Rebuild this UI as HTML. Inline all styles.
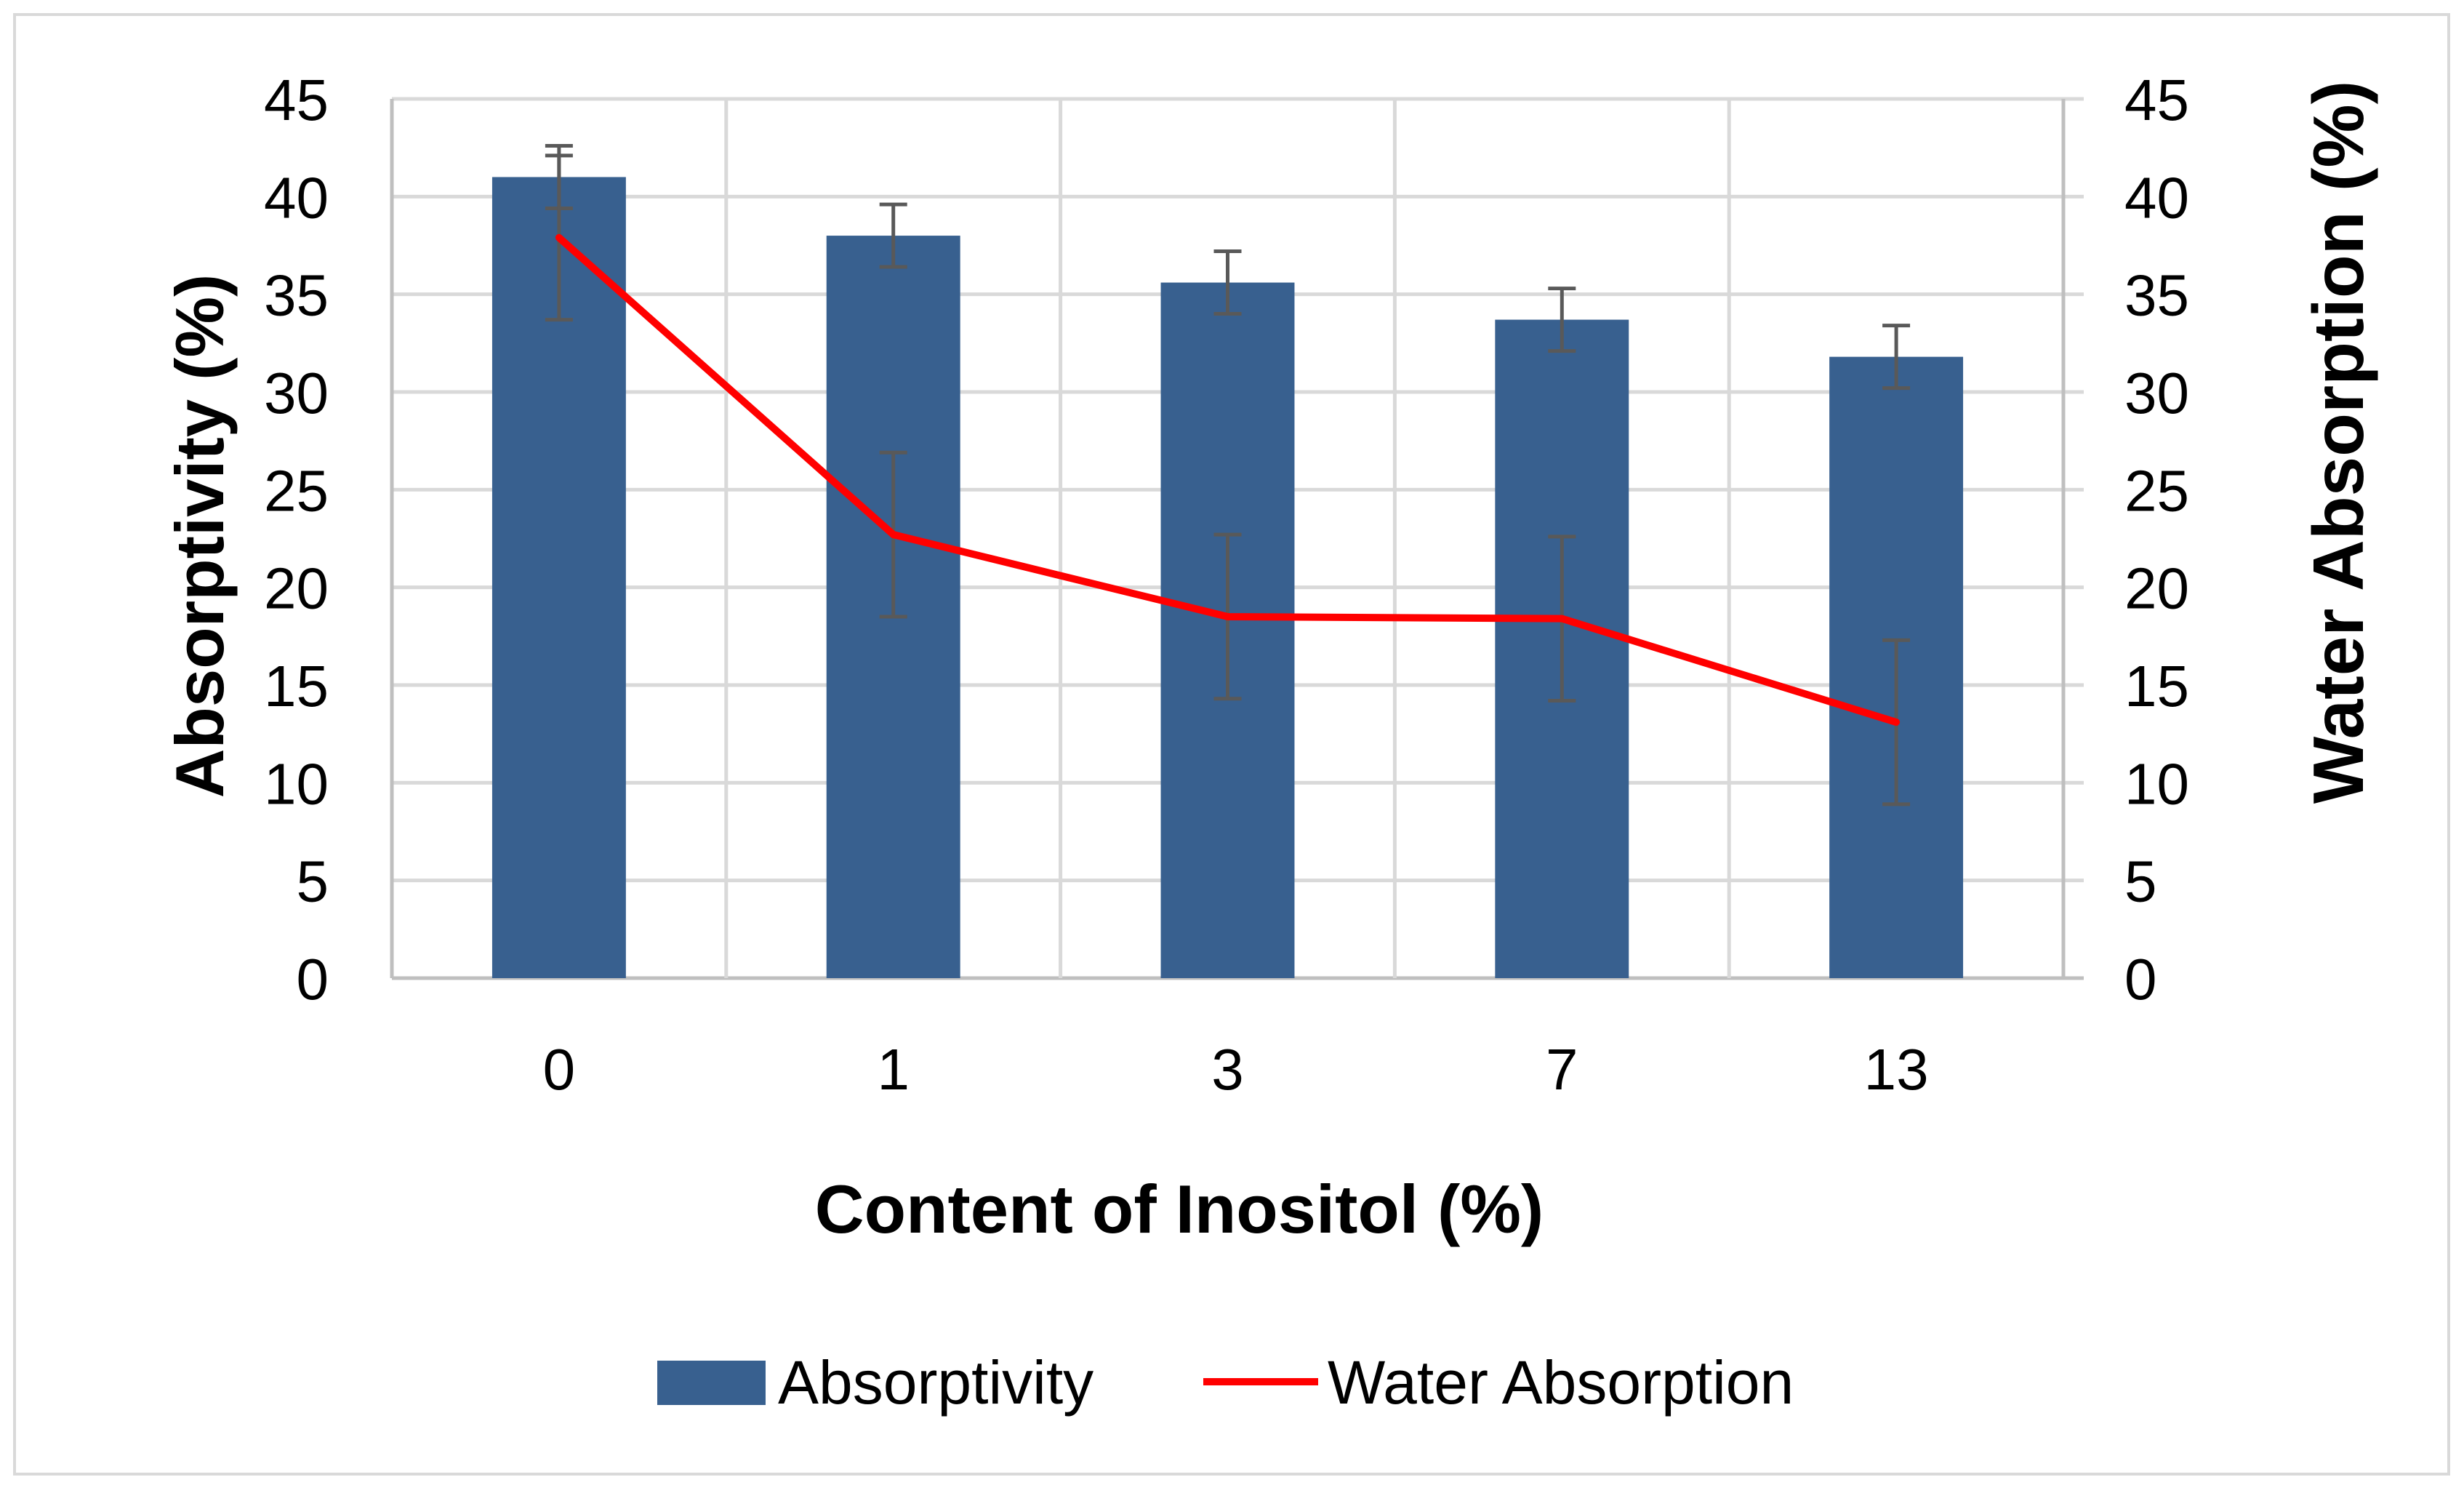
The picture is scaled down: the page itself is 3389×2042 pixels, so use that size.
<!DOCTYPE html>
<html><head><meta charset="utf-8"><style>
html,body{margin:0;padding:0;background:#fff;}
svg{display:block;font-family:"Liberation Sans",sans-serif;}
</style></head><body>
<svg id="chart" width="3389" height="2042" viewBox="0 0 3389 2042">
<rect x="20" y="20" width="3348" height="2007" fill="#fff" stroke="#d9d9d9" stroke-width="4"/>
<g id="grid"></g><g id="bars"></g><g id="lineg"></g><g id="axes"></g>
<text x="0" y="0" transform="translate(307,737) rotate(-90)" text-anchor="middle" font-size="94" font-weight="bold">Absorptivity (%)</text>
<text x="0" y="0" transform="translate(3250,608) rotate(-90)" text-anchor="middle" font-size="98" font-weight="bold">Water Absorption (%)</text>
<text x="1622" y="1695" text-anchor="middle" font-size="94" font-weight="bold">Content of Inositol (%)</text>
<g>
<rect x="904" y="1871" width="149" height="61" fill="#38608f"/>
<text x="1070" y="1930" font-size="84">Absorptivity</text>
<line x1="1655" y1="1900" x2="1813" y2="1900" stroke="#ff0000" stroke-width="10"/>
<text x="1826" y="1930" font-size="84">Water Absorption</text>
</g>
</svg>
<script>
const categories=["0","1","3","7","13"];
const absorptivity=[41,38,35.6,33.7,31.8];
const absorptivityErr=[1.6,1.6,1.6,1.6,1.6];
const waterAbsorption=[37.9,22.7,18.5,18.4,13.1];
const waterErr=[4.2,4.2,4.2,4.2,4.2];
const yTicks=[0,5,10,15,20,25,30,35,40,45];
const NS="http://www.w3.org/2000/svg";
const L=539,R=2838,T=136,B=1345,YMAX=45;
const y=v=>B-(v/YMAX)*(B-T);
const cw=(R-L)/categories.length;
const xc=i=>L+cw*(i+0.5);
function mk(tag,attrs,parent){const e=document.createElementNS(NS,tag);for(const k in attrs)e.setAttribute(k,attrs[k]);document.getElementById(parent).appendChild(e);return e;}
yTicks.forEach(t=>{
  const g=mk("line",{x1:L,x2:R+28,y1:y(t),y2:y(t),stroke:t===0?"#bfbfbf":"#d9d9d9","stroke-width":5},"grid");
  
  
  const tl=mk("text",{x:452,y:y(t)+29,"text-anchor":"end","font-size":80},"axes");tl.textContent=t;
  
  
  const tr=mk("text",{x:2922,y:y(t)+29,"font-size":80},"axes");tr.textContent=t;
  
  
});
for(let i=1;i<categories.length;i++){
  const v=mk("line",{x1:L+cw*i,x2:L+cw*i,y1:T,y2:B,stroke:"#d9d9d9","stroke-width":5},"grid");
  
  
}
const la=mk("line",{x1:L,x2:L,y1:T,y2:B,stroke:"#bfbfbf","stroke-width":5},"axes");


const ra=mk("line",{x1:R,x2:R,y1:T,y2:B,stroke:"#bfbfbf","stroke-width":5},"axes");


const bw=cw*0.4;
function errbar(cx,v,e,name){
  const g=mk("path",{d:`M${cx},${y(v+e)}V${y(v-e)}M${cx-19},${y(v+e)}H${cx+19}M${cx-19},${y(v-e)}H${cx+19}`,stroke:"#595959","stroke-width":5,fill:"none"},"lineg");
  
  
}
categories.forEach((c,i)=>{
  const r=mk("rect",{x:xc(i)-bw/2,y:y(absorptivity[i]),width:bw,height:B-y(absorptivity[i]),fill:"#38608f"},"bars");
  
  
  const xl=mk("text",{x:xc(i),y:1498,"text-anchor":"middle","font-size":80},"axes");xl.textContent=c;
  
  
});
categories.forEach((c,i)=>errbar(xc(i),absorptivity[i],absorptivityErr[i],'bar-error-'+c));
categories.forEach((c,i)=>errbar(xc(i),waterAbsorption[i],waterErr[i],'line-error-'+c));
const pl=mk("polyline",{points:waterAbsorption.map((v,i)=>xc(i)+","+y(v)).join(" "),fill:"none",stroke:"#ff0000","stroke-width":10,"stroke-linejoin":"round","stroke-linecap":"round"},"lineg");


</script>
</body></html>
